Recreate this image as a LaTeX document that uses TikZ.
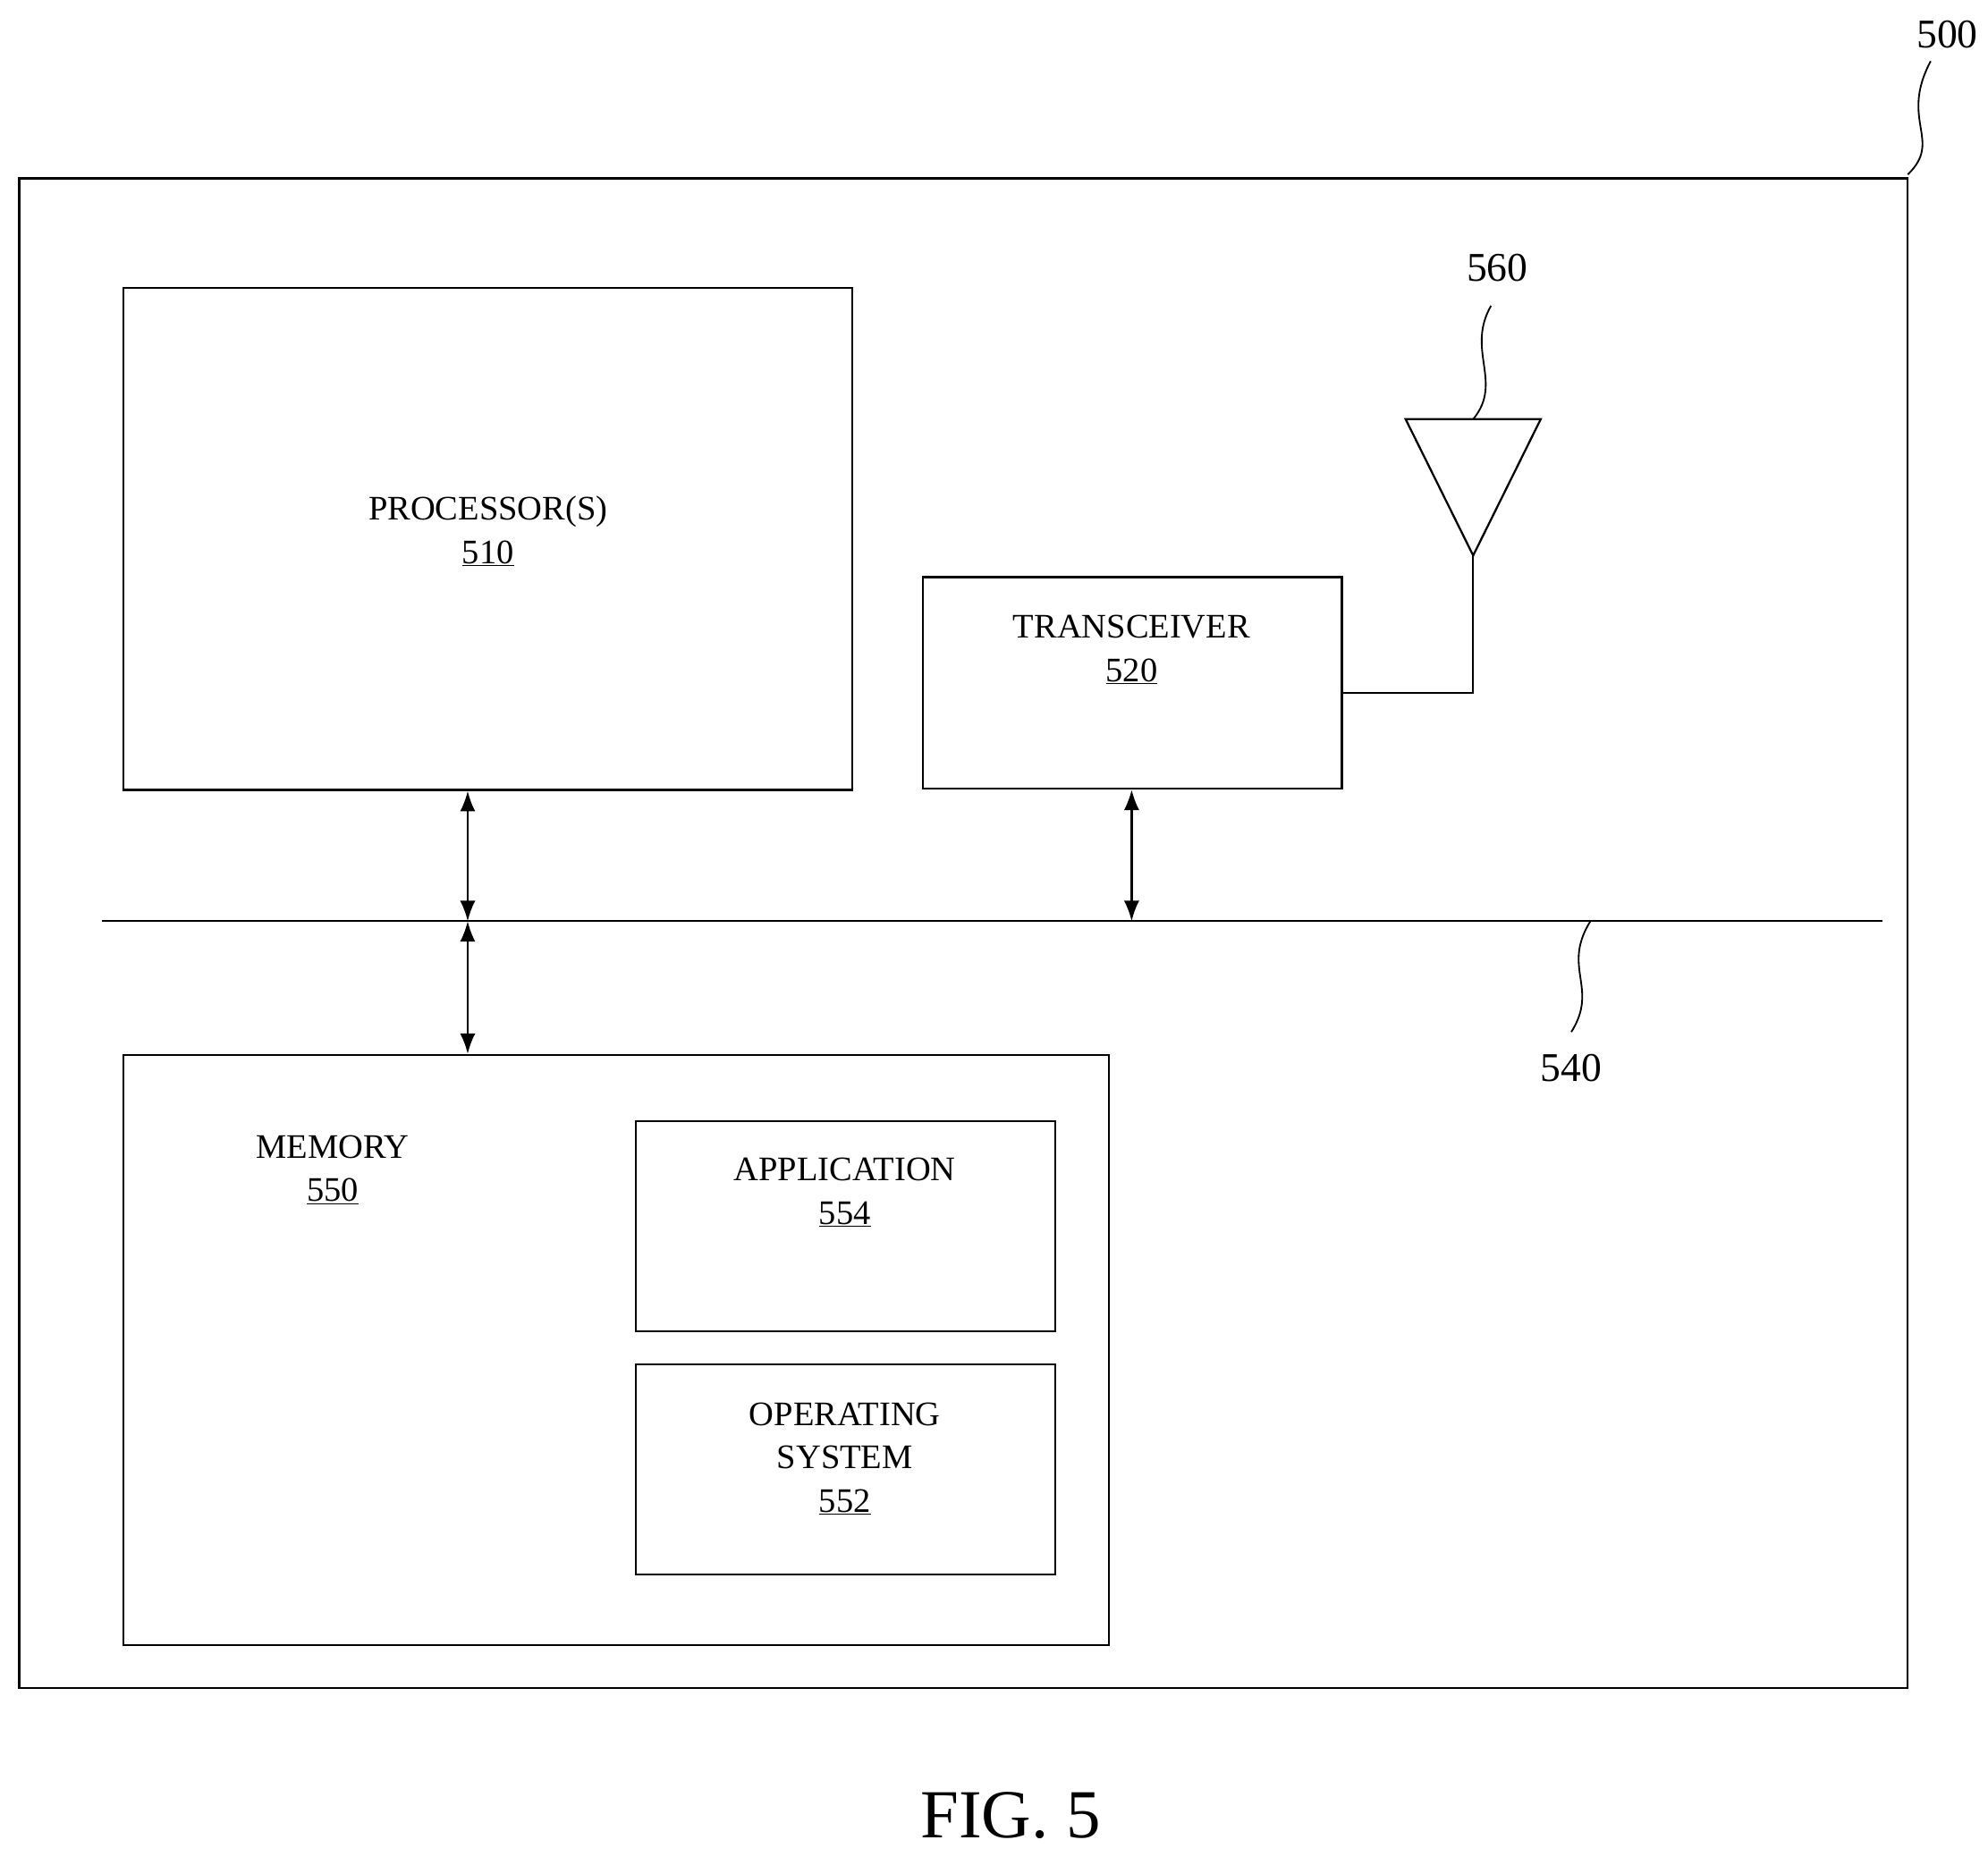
\documentclass[tikz,border=0pt]{standalone}
\usepackage{fontspec}
\setmainfont{Liberation Serif}
\usetikzlibrary{arrows.meta}
\begin{document}
\begin{tikzpicture}[x=1pt,y=-1pt,
  box/.style={draw,line width=1.6pt},
  lbl/.style={align=center,font=\fontsize{27}{34}\selectfont},
  num/.style={font=\fontsize{32}{38}\selectfont},
  arr/.style={line width=1.6pt,{Latex[length=16pt,width=12pt]}-{Latex[length=16pt,width=12pt]}},
  lead/.style={line width=1.3pt}]
\useasboundingbox (0,0) rectangle (1560,1457);
\draw[box] (15,140) rectangle (1497,1325);
\node[box,minimum width=572pt,minimum height=394pt] (p) at (383,423) {};
\node[lbl] at (383,417) {PROCESSOR(S)\\\underline{510}};
\node[box,minimum width=329pt,minimum height=166pt] (t) at (888.5,536) {};
\node[lbl] at (888,510) {TRANSCEIVER\\\underline{520}};
\node[box,minimum width=773pt,minimum height=463pt] (m) at (483.5,1059.5) {};
\node[lbl] at (261,918) {MEMORY\\\underline{550}};
\node[box,minimum width=329pt,minimum height=165pt] (a) at (663.5,962.5) {};
\node[lbl] at (663,936) {APPLICATION\\\underline{554}};
\node[box,minimum width=329pt,minimum height=165pt] (o) at (663.5,1153.5) {};
\node[lbl] at (663,1145) {OPERATING\\SYSTEM\\\underline{552}};
\coordinate (bl) at (80,723); \coordinate (br) at (1477,723);
\draw[line width=1.6pt] (bl) -- (br);
\coordinate (b1) at (367,723); \coordinate (b2) at (888,723);
\draw[arr] (p.south -| b1) -- (b1);
\draw[arr] (b1) -- (m.north -| b1);
\draw[arr] (t.south -| b2) -- (b2);
\coordinate (ant) at (1156,436);
\draw[line width=1.6pt] (1103,329) -- (1209,329) -- (ant) -- cycle;
\draw[line width=1.6pt] (ant) -- (1156,544) -- (t.east |- 0,544);
\node[num] (n500) at (1528,27) {500};
\draw[lead] (1497,137) .. controls (1525,110) and (1490,95) .. (1515,48);
\node[num] (n560) at (1175,210) {560};
\draw[lead] (1156,329) .. controls (1180,300) and (1150,275) .. (1170,240);
\node[num] (n540) at (1233,838) {540};
\draw[lead] (1248,723) .. controls (1225,760) and (1255,775) .. (1233,810);
\node[font=\fontsize{54}{62}\selectfont] (fig) at (793,1425) {FIG. 5};
\end{tikzpicture}
\end{document}
